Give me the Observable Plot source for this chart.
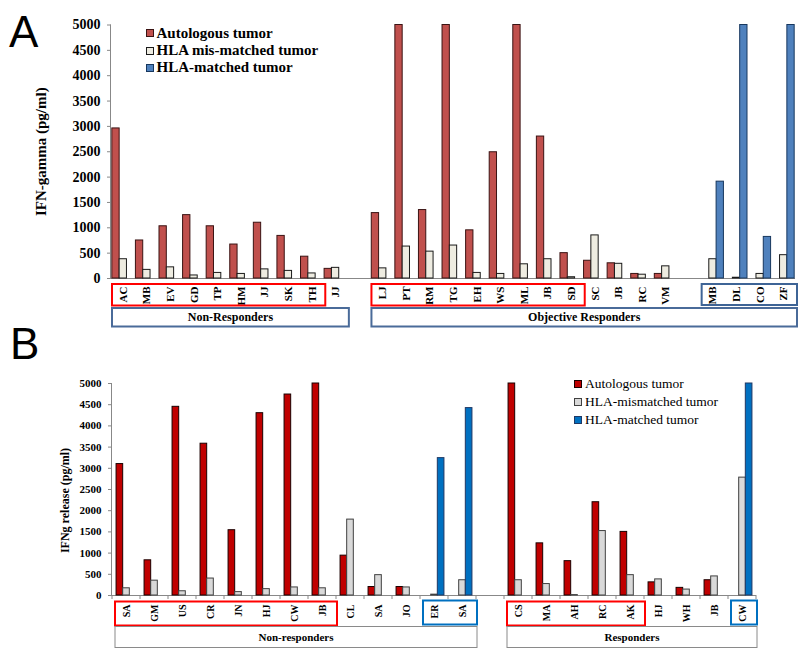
<!DOCTYPE html>
<html><head><meta charset="utf-8">
<script src="https://cdn.jsdelivr.net/npm/d3@7"></script>
<script src="https://cdn.jsdelivr.net/npm/@observablehq/plot@0.6"></script>
<style>
body{margin:0;background:#fff;}
#wrap{position:relative;width:800px;height:653px;overflow:hidden;font-family:"Liberation Serif","Times New Roman",serif;}
.panel{position:absolute;left:0;}
.letter{position:absolute;font-family:"Liberation Sans",Arial,sans-serif;font-size:44px;line-height:44px;color:#000;}
.legend{position:absolute;color:#000;}
.legend .row{display:flex;align-items:center;white-space:nowrap;}
.legend .sw{display:inline-block;box-sizing:border-box;border:1px solid #222;}
</style></head><body>
<div id="wrap"></div>
<script>
// ---------------- Panel A data ----------------
const labelsA = ["AC","MB","EV","GD","TP","HM","JJ","SK","TH","JJ","",
  "LJ","PT","RM","TG","EH","WS","ML","JB","SD","SC","JB","RC","VM","",
  "MB","DL","CO","ZF"];
const autoA  = [2960,750,1030,1250,1030,670,1100,840,430,190,0,
  1290,5000,1350,5000,950,2490,5000,2800,500,350,300,90,90,0,
  0,0,0,0];
const mismA  = [380,170,220,60,110,90,180,150,100,210,0,
  200,630,530,650,110,90,280,380,25,850,290,75,240,0,
  380,15,90,460];
const matchA = [0,0,0,0,0,0,0,0,0,0,0,
  0,0,0,0,0,0,0,0,0,0,0,0,0,0,
  1910,5000,820,5000];
const seriesNamesA = ["Autologous tumor","HLA mis-matched tumor","HLA-matched tumor"];
// groups: [label, first index, last index, kind]
const groupsA = [["",0,8,"sub"],["Non-Responders",0,9,"main"],
  ["",11,19,"sub"],["",25,28,"match"],["Objective Responders",11,28,"main"]];
const yTitleA = "IFN-gamma (pg/ml)";

// ---------------- Panel B data ----------------
const labelsB = ["SA","GM","US","CR","JN","HJ","CW","JB","CL","SA","JO","ER","SA","",
  "CS","MA","AH","RC","AK","HJ","WH","JB","CW"];
const autoB  = [3100,830,4450,3580,1540,4300,4740,5000,940,200,200,0,0,0,
  5000,1230,810,2200,1500,310,180,360,0];
const mismB  = [170,350,100,400,80,150,190,170,1790,480,190,20,360,0,
  360,270,10,1520,480,380,140,450,2780];
const matchB = [0,0,0,0,0,0,0,0,0,0,0,3240,4420,0,
  0,0,0,0,0,0,0,0,5000];
const seriesNamesB = ["Autologous tumor","HLA-mismatched tumor","HLA-matched tumor"];
const groupsB = [["",0,7,"sub"],["",11,12,"match"],["Non-responders",0,12,"main"],
  ["",14,18,"sub"],["",22,22,"match"],["Responders",14,22,"main"]];
const yTitleB = "IFNg release (pg/ml)";

const yTicks = d3.range(0, 5001, 500);

// ---------------- styles ----------------
const styleA = {
  top: 0, height: 335, ml: 111, mr: 5, mt: 24.5, mb: 57, frac: 0.93,
  fill: ["#C0504D","#EEECE1","#4F81BD"], stroke: ["#3a1313","#1a1a1a","#17375E"],
  tickFont: 14, catFont: 11, catPad: 8, titleFont: 15, titleDx: -70, titleDy: 0,
  boxes: {sub: ["#FF0000", 2], match: ["#3E6496", 2], main: ["#4A6B99", 2]},
  boxRows: {sub: [6, 27.5], match: [6, 27], main: [30, 48.5]}, boxPad: [1, 2],
  groupFont: 12, bticks: false
};
const styleB = {
  top: 335, height: 318, ml: 112, mr: 44, mt: 48, mb: 58, frac: 0.71,
  fill: ["#C00000","#D9D9D9","#0070C0"], stroke: ["#1a0000","#404040","#1F3864"],
  tickFont: 11, catFont: 10, catPad: 9, titleFont: 12, titleDx: -47, titleDy: 11,
  boxes: {sub: ["#FF0000", 2], match: ["#0070C0", 2], main: ["#8a8a8a", 1]},
  boxRows: {sub: [6.5, 30.5], match: [5.5, 29.5], main: [31.5, 52.5]}, boxPad: [3, 1],
  groupFont: 11, bticks: true
};

function panel(labels, series, groups, title, st) {
  const n = labels.length;
  const width = 800;
  const bw = (width - st.ml - st.mr) / n;
  const w = bw * st.frac / 3;
  const off = (bw - 3 * w) / 2;
  const rows = [];
  series.forEach((arr, s) => arr.forEach((v, i) => { if (v > 0) rows.push({i, s, v}); }));
  const marks = [
    Plot.ruleY([0], {stroke: "#888"}),
    ...[0,1,2].map(s => Plot.barY(rows.filter(d => d.s === s), {
      x: "i", y: "v", fill: st.fill[s], stroke: st.stroke[s], strokeWidth: 1,
      insetLeft: off + s * w, insetRight: bw - off - (s + 1) * w
    })),
    Plot.axisY({ticks: yTicks, tickSize: 4, tickPadding: 7, fontSize: st.tickFont,
      fontWeight: "bold", label: null, stroke: "#888", tickFormat: d => String(d)}),
    Plot.axisX({tickSize: 0, tickPadding: st.catPad, tickRotate: -90, label: null,
      fontSize: st.catFont, fontWeight: "bold", tickFormat: i => labels[i]}),
    Plot.text([title], {frameAnchor: "left", textAnchor: "middle", rotate: -90,
      dx: st.titleDx, dy: st.titleDy,
      fontSize: st.titleFont, fontWeight: "bold", fill: "#000"})
  ];
  const svg = Plot.plot({
    width, height: st.height,
    marginLeft: st.ml, marginRight: st.mr, marginTop: st.mt, marginBottom: st.mb,
    x: {type: "band", domain: d3.range(n), padding: 0, round: false, axis: null},
    y: {domain: [0, 5000], axis: null},
    style: {fontFamily: "'Liberation Serif','Times New Roman',serif", color: "#000", background: "transparent", overflow: "visible"},
    marks
  });
  // overlays computed from the plot's own x scale
  const sx = svg.scale("x");
  const xb = d3.scaleBand().domain(sx.domain).range(sx.range).padding(0);
  const base = st.height - st.mb;
  const g = d3.select(svg).append("g");
  g.append("line").attr("x1", st.ml - 0.5).attr("x2", st.ml - 0.5)
    .attr("y1", st.mt).attr("y2", base).attr("stroke", "#888");
  if (st.bticks) {
    d3.range(n + 1).forEach(k => {
      const x = (k < n ? xb(k) : xb(n - 1) + xb.bandwidth());
      g.append("line").attr("x1", x).attr("x2", x).attr("y1", base).attr("y2", base + 4).attr("stroke", "#888");
    });
  }
  groups.forEach(([lab, a, b, kind]) => {
    const [col, sw] = st.boxes[kind];
    const [r0, r1] = st.boxRows[kind];
    const x0 = xb(a) + st.boxPad[0], x1 = xb(b) + xb.bandwidth() + st.boxPad[1];
    g.append("rect").attr("x", x0).attr("y", base + r0).attr("width", x1 - x0).attr("height", r1 - r0)
      .attr("fill", "none").attr("stroke", col).attr("stroke-width", sw);
    if (lab) g.append("text").attr("x", (x0 + x1) / 2).attr("y", base + (r0 + r1) / 2)
      .attr("dy", "0.35em").attr("text-anchor", "middle").attr("font-weight", "bold")
      .attr("font-size", st.groupFont).text(lab);
  });
  svg.classList.add("panel");
  svg.style.position = "absolute";
  svg.style.top = st.top + "px";
  svg.style.left = "0px";
  return svg;
}

const wrap = document.getElementById("wrap");
wrap.appendChild(panel(labelsA, [autoA, mismA, matchA], groupsA, yTitleA, styleA));
wrap.appendChild(panel(labelsB, [autoB, mismB, matchB], groupsB, yTitleB, styleB));

function letter(t, left, top) {
  const d = document.createElement("div");
  d.className = "letter"; d.textContent = t;
  d.style.left = left + "px"; d.style.top = top + "px";
  wrap.appendChild(d);
}
letter("A", 9, 9.5);
letter("B", 10, 322);

function legend(names, fills, strokes, left, top, rowH, sq, fontSize, bold, gap) {
  const L = document.createElement("div");
  L.className = "legend";
  L.style.left = left + "px"; L.style.top = top + "px";
  L.style.fontSize = fontSize + "px"; L.style.fontWeight = bold ? "bold" : "normal";
  names.forEach((nm, k) => {
    const r = document.createElement("div");
    r.className = "row"; r.style.height = rowH + "px";
    const s = document.createElement("span");
    s.className = "sw"; s.style.width = sq + "px"; s.style.height = sq + "px";
    s.style.background = fills[k]; s.style.borderColor = strokes[k];
    s.style.marginRight = gap + "px";
    const t = document.createElement("span"); t.textContent = nm;
    r.appendChild(s); r.appendChild(t); L.appendChild(r);
  });
  wrap.appendChild(L);
}
legend(seriesNamesA, styleA.fill, styleA.stroke, 145.5, 24.8, 17.2, 8, 15, true, 3);
legend(seriesNamesB, styleB.fill, styleB.stroke, 574, 375.3, 17.8, 8, 13.5, false, 3);
</script>
</body></html>
